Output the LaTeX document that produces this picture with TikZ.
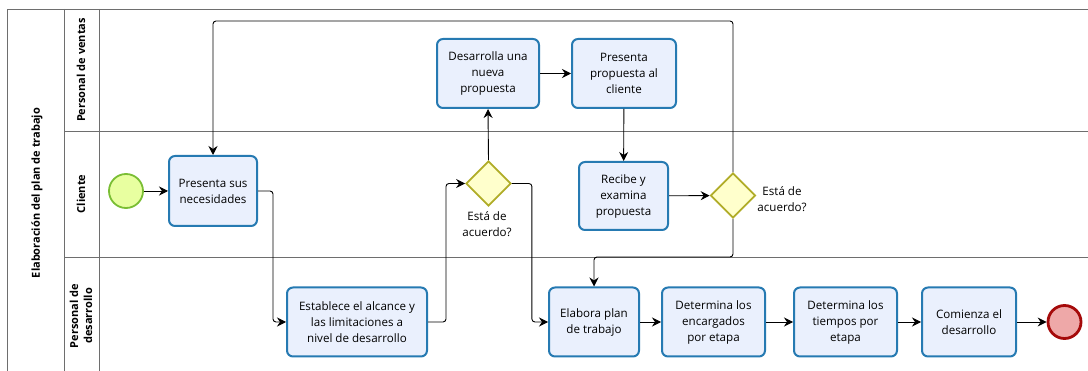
\documentclass[tikz,border=0pt]{standalone}
\usepackage{fontspec}
\setmainfont{Open Sans}
\usetikzlibrary{shapes.geometric,arrows.meta}
\definecolor{taskbd}{RGB}{38,122,178}
\definecolor{taskfill}{RGB}{234,240,253}
\definecolor{gwbd}{RGB}{176,172,40}
\definecolor{gwfill}{RGB}{255,255,204}
\definecolor{startbd}{RGB}{122,190,52}
\definecolor{startfill}{RGB}{232,255,160}
\definecolor{endbd}{RGB}{165,10,10}
\definecolor{endfill}{RGB}{238,168,168}
\definecolor{poolline}{RGB}{110,110,110}
\tikzset{
  task/.style={draw=taskbd, fill=taskfill, line width=2pt, rounded corners=6pt,
    minimum width=#1, minimum height=69pt, align=center, inner sep=1pt,
    font=\fontsize{11.6}{16}\selectfont},
  task/.default=90pt,
  gw/.style={draw=gwbd, fill=gwfill, line width=1.8pt, diamond, minimum width=45pt,
    minimum height=45pt, inner sep=0pt},
  startev/.style={draw=startbd, fill=startfill, line width=1.8pt, circle, minimum size=34pt, inner sep=0pt},
  endev/.style={draw=endbd, fill=endfill, line width=2.8pt, circle, minimum size=33pt, inner sep=0pt},
  flow/.style={draw=black, line width=0.9pt, rounded corners=3pt, -{Stealth[length=9pt,width=9pt,inset=3pt]}},
  lbl/.style={align=center, font=\fontsize{11.6}{16}\selectfont, inner sep=0pt},
  lanetxt/.style={rotate=90, align=center, font=\bfseries\fontsize{11}{14}\selectfont, inner sep=0pt},
  lane/.style={draw=poolline, line width=0.8pt},
}
\begin{document}
\begin{tikzpicture}[x=1pt,y=-1pt]
\useasboundingbox (0,0) rectangle (1088,371);
% pool and lanes
\draw[lane] (7,375) -- (7,9) -- (1090,9);
\draw[lane] (64,9) -- (64,375);
\draw[lane] (99,9) -- (99,375);
\draw[lane] (64,131) -- (1090,131);
\draw[lane] (64,257) -- (1090,257);
\node[lanetxt] (pooltitle) at (37,193) {Elaboración del plan de trabajo};
\node[lanetxt] (lane1) at (81,70) {Personal de ventas};
\node[lanetxt] (lane2) at (81,194) {Cliente};
\node[lanetxt] (lane3) at (81,316) {Personal de\\desarrollo};
% nodes
\node[startev] (start) at (126,191) {};
\node[task=88pt, minimum height=70pt] (t1) at (213,191) {Presenta sus\\necesidades};
\node[task=140pt] (t2) at (357,322) {Establece el alcance y\\las limitaciones a\\nivel de desarrollo};
\node[gw] (g1) at (488.5,183.5) {};
\node[lbl] (g1l) at (487,224) {Está de\\acuerdo?};
\node[task=102pt] (t3) at (488,73.5) {Desarrolla una\\nueva\\propuesta};
\node[task=104pt] (t4) at (624,73.5) {Presenta\\propuesta al\\cliente};
\node[task=89pt, minimum height=68pt] (t5) at (623.5,196) {Recibe y\\examina\\propuesta};
\node[gw] (g2) at (733,195.5) {};
\node[lbl] (g2l) at (782,199) {Está de\\acuerdo?};
\node[task=90pt] (t6) at (594,322) {Elabora plan\\de trabajo};
\node[task=103pt] (t7) at (713.5,322) {Determina los\\encargados\\por etapa};
\node[task=103pt] (t8) at (845.5,322) {Determina los\\tiempos por\\etapa};
\node[task=94pt] (t9) at (969,322) {Comienza el\\desarrollo};
\node[endev] (end) at (1064.5,322) {};
\coordinate (topy) at (0,21);
\coordinate (midy) at (0,257);
% flows
\draw[flow] (start) -- (t1);
\draw[flow] (t1.east) -- ++(15,0) |- (t2.west);
\draw[flow] (t2.east) -- ++(18,0) |- (g1.west);
\draw[flow] (g1.north) -- (t3.south);
\draw[flow] (g1.east) -- ++(20,0) |- (t6.west);
\draw[flow] (t3) -- (t4);
\draw[flow] (t4) -- (t5);
\draw[flow] (t5) -- (g2);
\draw[flow] (g2.north) -- (g2.north |- topy) -| (t1.north);
\draw[flow] (g2.south) -- (g2.south |- midy) -| (t6.north);
\draw[flow] (t6) -- (t7);
\draw[flow] (t7) -- (t8);
\draw[flow] (t8) -- (t9);
\draw[flow] (t9) -- (end);
\end{tikzpicture}
\end{document}
